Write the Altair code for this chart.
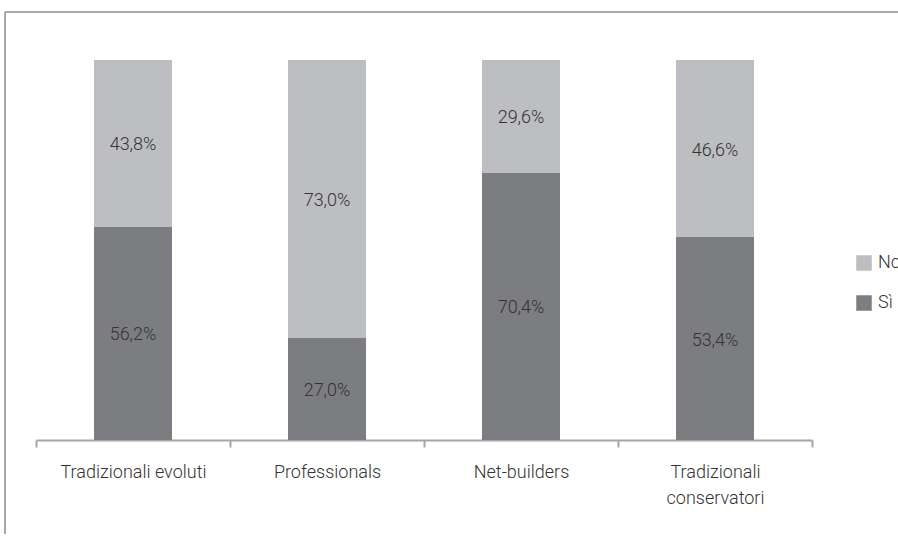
import altair as alt
import pandas as pd

categories = ["Tradizionali evoluti", "Professionals", "Net-builders", "Tradizionali conservatori"]
si_values = [56.2, 27.0, 70.4, 53.4]
no_values = [43.8, 73.0, 29.6, 46.6]
answers = ["No", "Sì"]
colors = ["#bdbec2", "#7c7d81"]

rows = []
for c, s, n in zip(categories, si_values, no_values):
    rows.append({"category": c, "answer": "Sì", "value": s, "order": 0,
                 "label": f"{s:.1f}".replace(".", ",") + "%"})
    rows.append({"category": c, "answer": "No", "value": n, "order": 1,
                 "label": f"{n:.1f}".replace(".", ",") + "%"})
df = pd.DataFrame(rows)
frame_df = pd.DataFrame({"k": [0]})

FONT = "Roboto"
FW = 300
FS = 18

x_enc = alt.X("category:N", sort=categories, title=None,
              scale=alt.Scale(paddingInner=0, paddingOuter=0),
              axis=alt.Axis(labelAngle=0, tickBand="extent", domainColor="#a6a6a6",
                            domainWidth=2, tickColor="#a6a6a6", tickWidth=2, tickSize=7,
                            labelFont=FONT, labelFontSize=FS, labelFontWeight=FW,
                            labelColor="#333333",
                            labelPadding=16, labelLineHeight=26,
                            labelExpr="datum.label == 'Tradizionali conservatori' ? ['Tradizionali', 'conservatori'] : datum.label"))

base = alt.Chart(df).transform_stack(
    stack="value", groupby=["category"], as_=["v0", "v1"],
    sort=[alt.SortField("order", order="ascending")]
).transform_calculate(mid="(datum.v0 + datum.v1) / 2")

y_scale = alt.Scale(domain=[0, 100], nice=False)

bars = base.mark_bar(size=78).encode(
    x=x_enc,
    y=alt.Y("v0:Q", scale=y_scale, axis=None),
    y2="v1:Q",
    color=alt.Color("answer:N", scale=alt.Scale(domain=answers, range=colors),
                    legend=alt.Legend(title=None, orient="none", legendX=819, legendY=194,
                                      symbolType="square", symbolSize=240, symbolStrokeWidth=0,
                                      labelFont=FONT, labelFontSize=FS, labelFontWeight=FW,
                                      labelColor="#333333", labelLimit=300,
                                      rowPadding=22, labelOffset=5)),
)

texts = base.mark_text(font=FONT, fontSize=FS, fontWeight=FW, color="#333333", dy=2).encode(
    x=alt.X("category:N", sort=categories),
    y=alt.Y("mid:Q", scale=y_scale, axis=None),
    text="label:N",
)

frame_top = alt.Chart(frame_df).mark_rule(color="#a8a8a8", strokeWidth=2).encode(
    x=alt.value(-31), x2=alt.value(862), y=alt.value(-48), y2=alt.value(-48))
frame_left = alt.Chart(frame_df).mark_rule(color="#a8a8a8", strokeWidth=2).encode(
    x=alt.value(-31), x2=alt.value(-31), y=alt.value(-48), y2=alt.value(480))

chart = alt.layer(frame_top, frame_left, bars, texts).properties(
    width=776, height=380,
    background="white",
    autosize=alt.AutoSizeParams(type="none"),
    padding={"left": 36, "top": 60, "right": 86, "bottom": 94},
).configure_view(strokeWidth=0, stroke="transparent")

chart.save("out.html", embed_options={"renderer": "svg", "actions": False})
